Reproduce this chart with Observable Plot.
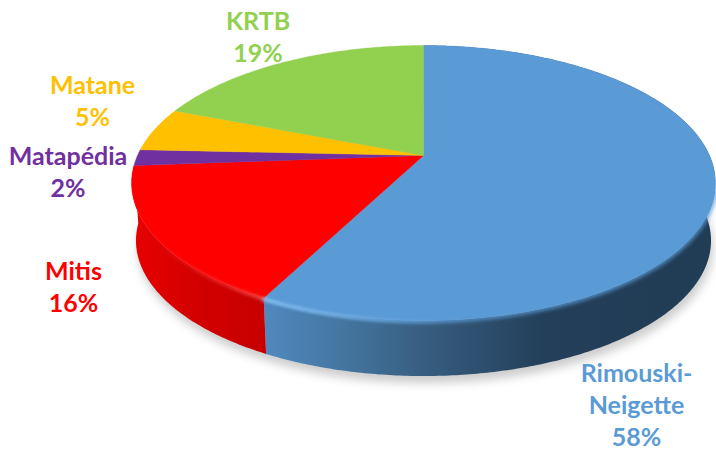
<!DOCTYPE html>
<html>
<head>
<meta charset="utf-8">
<script src="https://cdn.jsdelivr.net/npm/d3@7"></script>
<script src="https://cdn.jsdelivr.net/npm/@observablehq/plot@0.6"></script>
<style>html,body{margin:0;padding:0;background:#fff}svg{display:block}</style>
</head>
<body>
<div id="chart"></div>
<script>
// Data: clockwise from twelve o'clock
const categories = ["Rimouski-Neigette", "Mitis", "Matapédia", "Matane", "KRTB"];
const shares = [57.6, 16.2, 1.9, 5.2, 19.1];
const percentLabels = ["58%", "16%", "2%", "5%", "19%"];
const labelLines = ["Rimouski-\nNeigette", "Mitis", "Matapédia", "Matane", "KRTB"];

// Styles and layout
const sliceColors = ["#5B9BD5", "#FF0000", "#7030A0", "#FFC000", "#92D050"];
const wallFills = ["url(#wallBlue)", "url(#wallRed)"];
const labelX = [636, 73, 67.5, 92, 257.5];
const labelY = [403, 285, 170, 99, 35];

// Perspective disc: unit circle seen from the front, centre at the origin
const tilt = 0.2, halfWidth = 286, halfDepth = 132, wall = 58, bottomShrink = 0.985;
function project(angle, lower) {
  const u = Math.sin(angle), v = Math.cos(angle), d = 1 + tilt * v;
  const s = lower ? bottomShrink : 1;
  return {x: s * halfWidth * u / d, y: s * halfDepth * v / d - (lower ? wall : 0)};
}
function arc(a0, a1, lower) {
  const n = Math.max(2, Math.ceil(Math.abs(a1 - a0) / 0.01));
  return d3.range(n + 1).map(i => project(a0 + (a1 - a0) * i / n, lower));
}
const arcs = d3.pie().sort(null)(shares);

const tops = arcs.flatMap((s, i) =>
  [{x: 0, y: 0}, ...arc(s.startAngle, s.endAngle, false), {x: 0, y: 0}].map(p => ({...p, name: categories[i]})));
const walls = wallFills.map((f, i) =>
  [...arc(arcs[i].startAngle, arcs[i].endAngle, false), ...arc(arcs[i].endAngle, arcs[i].startAngle, true)]);
const outline = arc(0, 2 * Math.PI, true);

const blueEnd = arcs[0].endAngle;
const rimBlue = arc(blueEnd, blueEnd - 0.62, false).map(p => ({x: p.x, y: p.y - 1}));
const rimRed = arc(blueEnd + 0.62, blueEnd, false).map(p => ({x: p.x, y: p.y - 1}));
const softEdge = arc(Math.PI * 0.58, blueEnd, false);

function gradients() {
  const defs = d3.create("svg:defs");
  const add = (id, stops) => {
    const g = defs.append("linearGradient").attr("id", id);
    stops.forEach(([o, c, a]) => g.append("stop").attr("offset", o).attr("stop-color", c).attr("stop-opacity", a ?? 1));
  };
  add("wallBlue", [[0, "#5089bf"], [0.18, "#44759f"], [0.36, "#375d80"], [0.62, "#233f59"], [1, "#213c55"]]);
  add("wallRed", [[0, "#e80000"], [0.45, "#d40000"], [1, "#c60000"]]);
  add("rimB", [[0, "#8cc6f7", 1], [0.35, "#7fb9ee", 0.8], [1, "#6cabe6", 0]]);
  add("rimR", [[0, "#ff4040", 0], [0.7, "#ff4a4a", 0.55], [1, "#ff6060", 0.8]]);
  return defs.node();
}

const chart = Plot.plot({
  width: 716, height: 450, margin: 0,
  x: {domain: [-423, 293], axis: null},
  y: {domain: [-295, 155], axis: null},
  color: {domain: categories, range: sliceColors},
  style: {background: "#fff"},
  marks: [
    gradients,
    Plot.line(outline, {x: d => d.x + 2, y: d => d.y - 7, fill: "#000", fillOpacity: 0.2, stroke: "none", imageFilter: "blur(5px)"}),
    ...walls.map((w, i) => Plot.line(w, {x: "x", y: "y", fill: wallFills[i], stroke: "none"})),
    Plot.line(softEdge, {x: "x", y: "y", stroke: "#5B9BD5", strokeWidth: 4, imageFilter: "blur(2px)"}),
    Plot.line(tops, {x: "x", y: "y", z: "name", fill: "name", stroke: "name", strokeWidth: 0.4, imageFilter: "blur(0.6px)"}),
    Plot.line(rimBlue, {x: "x", y: "y", stroke: "url(#rimB)", strokeWidth: 3, imageFilter: "blur(1.5px)"}),
    Plot.line(rimRed, {x: "x", y: "y", stroke: "url(#rimR)", strokeWidth: 3, imageFilter: "blur(1.5px)"}),
    Plot.text(categories.map((c, i) => i), {
      x: i => labelX[i] - 423,
      y: i => 155 - labelY[i],
      text: i => labelLines[i] + "\n" + percentLabels[i],
      fill: i => categories[i],
      fontFamily: "Lato, 'Open Sans', sans-serif",
      fontWeight: 700,
      fontSize: 25,
      lineHeight: 1.28,
      lineAnchor: "middle",
      textAnchor: "middle"
    })
  ]
});
document.getElementById("chart").append(chart);
</script>
</body>
</html>
